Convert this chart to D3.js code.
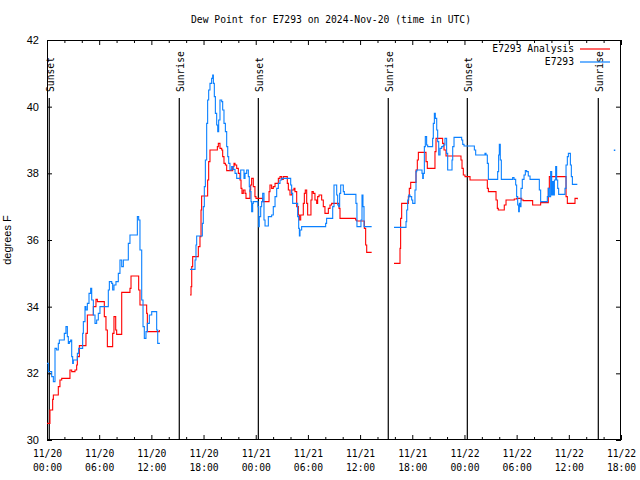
<!DOCTYPE html>
<html><head><meta charset="utf-8">
<script src="https://cdn.jsdelivr.net/npm/d3@7/dist/d3.min.js"></script>
<style>
body{margin:0;background:#fff;}
svg{display:block;}
.mono{font-family:"DejaVu Sans Mono",monospace;font-size:9.7px;fill:#000;}
.sans{font-family:"Liberation Sans",Arial,sans-serif;font-size:11px;fill:#000;}
</style>
</head><body>
<svg id="c" width="640" height="480"></svg>
<script>
// ---- data (hours since 2024-11-20 00:00 UTC) ----
const titleText = "Dew Point for E7293 on 2024-Nov-20 (time in UTC)";
const yLabel = "degrees F";
const seriesNames = ["E7293 Analysis", "E7293"];
const yTicks = [30, 32, 34, 36, 38, 40, 42];

const analysisHours = [
 0,0.34,0.65,0.73,1.30,1.49,1.69,2.64,2.84,3.22,3.41,3.49,3.72,4.48,4.64,5.33,5.63,5.79,6.59,6.78,6.94,7.55,7.70,7.90,8.01,8.59,9.54,9.66,10.54,10.69,11.46,11.54,12.92,
 null,
 16.44,16.56,16.64,16.75,17.40,17.59,17.71,17.78,18.47,18.59,18.74,19.59,19.70,19.89,20.09,20.20,20.35,20.51,20.66,21.35,21.50,21.62,21.81,22.00,22.19,22.31,22.42,22.57,22.77,22.88,23.34,23.42,23.53,23.72,23.91,24.03,24.80,25.53,25.64,25.83,26.02,26.22,26.41,26.60,26.79,26.98,27.17,27.63,27.75,27.94,28.13,28.40,28.51,28.71,28.90,29.02,29.17,29.47,29.59,29.70,29.86,29.97,30.35,30.47,30.62,30.81,31.01,31.12,31.28,31.58,31.77,31.96,32.35,32.54,32.73,33.58,33.69,35.49,35.61,36.49,36.64,36.76,37.33,
 null,
 39.90,40.59,40.66,40.78,41.55,41.66,41.82,42.43,42.58,42.70,43.58,43.73,44.61,44.73,45.49,45.65,45.88,47.60,47.72,47.87,48.06,48.64,50.63,50.75,51.63,51.78,51.89,52.58,52.78,53.73,54.00,54.58,54.77,55.84,56.76,57.64,57.76,59.68,59.83,60.71,60.98
];
const analysisValues = [
 30.5,30.9,31.22,31.35,31.6,31.8,31.85,32.1,32.05,32.1,32.25,32.5,32.83,33.2,33.75,34.0,34.22,34.15,33.7,33.3,32.8,33.2,33.7,33.3,33.17,34.43,34.55,34.92,34.5,34.05,33.8,33.25,33.3,
 null,
 34.35,34.6,35.2,35.5,35.8,36.1,36.9,37.32,37.8,38.35,38.7,38.8,38.9,38.75,38.7,38.5,38.3,38.25,38.08,38.2,38.3,38.25,38.15,38.0,37.8,37.55,37.4,37.5,37.4,37.25,37.5,37.65,37.85,37.6,37.3,37.25,37.15,37.45,37.65,37.55,37.6,37.7,37.7,37.85,37.9,37.82,37.9,37.7,37.5,37.35,37.5,37.55,37.45,37.0,36.75,36.6,36.75,37.1,37.4,37.5,37.1,36.75,37.2,37.45,37.4,37.2,37.1,37.3,37.35,37.2,37.0,36.8,36.95,37.05,37.1,36.95,36.65,36.6,36.57,36.35,35.85,35.63,35.63,
 null,
 35.3,35.75,36.65,37.1,37.3,37.55,37.73,38.1,38.4,38.63,38.35,38.15,38.65,39.05,38.9,38.7,38.52,38.4,38.15,37.95,37.9,37.8,37.55,37.45,37.2,36.95,36.9,37.05,37.2,37.23,37.25,37.2,37.18,37.05,37.12,37.55,37.9,37.3,37.1,37.25,37.22
];

const observedHours = [
 0,0.15,0.54,0.73,0.92,1.11,1.30,1.42,1.99,2.18,2.34,2.45,2.57,2.72,2.84,2.95,3.03,3.49,3.64,3.87,4.10,4.18,4.37,4.48,4.64,4.83,5.02,5.14,5.33,5.52,5.71,5.90,6.09,7.05,7.17,7.44,7.55,7.70,7.93,8.20,8.39,8.59,8.78,9.35,9.54,10.39,10.54,10.69,10.89,11.04,11.19,11.38,11.54,11.77,12.04,12.61,12.73,12.92,
 null,
 16.44,17.02,17.13,17.21,17.86,17.97,18.09,18.21,18.36,18.47,18.59,18.74,18.93,19.05,19.13,19.24,19.36,19.51,19.63,19.74,19.89,20.09,20.20,20.35,20.51,20.66,20.78,20.89,21.04,21.23,21.42,21.62,21.81,22.27,22.50,22.65,22.77,22.96,23.15,23.26,23.34,23.46,23.53,23.65,23.72,24.26,24.34,24.41,24.57,24.68,24.80,24.95,25.07,25.45,25.83,26.02,26.22,26.41,26.60,26.79,26.98,28.02,28.13,28.25,28.82,28.94,29.02,29.09,29.28,32.04,32.15,32.85,33.00,33.31,33.42,33.54,33.65,33.77,34.07,34.19,35.52,35.64,36.10,36.22,36.33,36.45,37.33,
 null,
 39.90,41.28,41.36,41.47,41.59,41.74,41.93,42.05,42.31,42.43,42.51,43.12,43.20,43.27,43.39,43.50,43.65,43.77,44.34,44.42,44.54,44.65,44.81,44.92,45.04,45.19,45.38,45.57,45.76,45.95,46.07,46.57,46.65,46.80,47.68,47.80,47.95,49.14,49.29,50.36,50.48,50.63,50.75,51.82,51.93,52.01,52.12,52.24,53.54,53.70,53.89,54.00,54.12,54.23,54.31,54.39,54.50,54.65,54.85,55.00,55.15,55.34,55.54,56.61,56.76,57.53,57.64,57.76,57.91,58.03,58.14,58.22,58.34,58.49,58.60,58.72,58.83,59.56,59.68,59.83,59.95,60.06,60.18,60.29,60.41,60.98
];
const observedValues = [
 32.3,32.05,31.9,31.75,32.75,32.7,32.9,33.0,33.2,33.4,33.1,32.9,32.95,33.0,32.5,32.3,32.4,32.6,32.75,32.75,33.2,33.55,34.0,33.9,34.1,34.4,34.55,34.2,33.75,33.5,33.6,33.8,34.0,34.5,34.75,34.7,34.5,34.65,34.75,35.0,35.4,35.2,35.4,35.9,36.15,36.7,36.6,35.7,34.2,33.4,33.05,33.25,33.5,33.75,33.85,33.3,32.9,32.88,
 null,
 35.12,35.4,35.85,36.12,36.5,37.0,37.6,38.4,39.5,40.2,40.5,40.7,40.85,40.95,40.7,40.3,39.8,39.45,39.25,39.6,40.2,40.15,39.9,39.5,39.25,38.8,38.5,38.3,38.1,38.2,38.12,38.0,37.85,38.1,38.1,37.85,38.0,38.1,37.9,37.6,37.45,37.15,36.85,37.1,37.15,37.0,36.4,36.7,37.0,37.15,37.4,36.6,36.42,36.7,36.75,37.0,37.3,37.55,37.7,37.8,37.85,37.65,37.4,37.1,36.7,36.35,36.12,36.3,36.4,36.5,36.65,37.0,37.65,37.35,37.05,37.0,37.4,37.65,37.45,37.37,37.1,36.4,36.6,37.35,37.0,36.4,36.4,
 null,
 36.38,36.55,36.9,37.2,37.35,37.3,37.2,37.1,37.5,38.05,38.1,38.0,37.85,38.0,38.8,39.1,38.85,38.8,39.05,39.5,39.8,39.65,39.3,38.95,38.55,38.75,38.8,38.85,39.05,38.6,38.1,38.4,38.8,39.08,39.0,38.87,38.82,38.7,38.55,38.6,38.55,38.3,37.82,38.05,38.55,38.87,38.4,37.82,37.87,37.82,37.65,37.3,37.05,36.85,37.1,37.0,37.55,37.82,37.95,38.08,38.05,37.92,37.82,37.5,37.15,37.3,37.55,37.3,38.05,37.35,37.75,37.35,37.8,38.2,37.8,37.55,37.37,37.55,38.25,38.5,38.6,38.6,38.25,37.9,37.67,37.67
];
const observedDotHours = [65.23];
const observedDotValues = [38.7];

const sunEventHours = [0.26, 15.21, 24.30, 39.24, 48.33, 63.39];
const sunEventLabels = ["Sunset", "Sunrise", "Sunset", "Sunrise", "Sunset", "Sunrise"];

// ---- setup ----
const T0 = Date.UTC(2024, 10, 20, 0, 0);
const toDate = h => new Date(T0 + h * 3600e3);
const svg = d3.select("#c");
const L = 47, R = 621, T = 40, B = 440;
const x = d3.scaleUtc().domain([toDate(0), toDate(66)]).range([L, R]);
const y = d3.scaleLinear().domain([30, 42]).range([B, T]);

function pairs(hs, vs) { return hs.map((h, i) => ({ h, v: vs[i] })); }
const analysis = pairs(analysisHours, analysisValues);
const observed = pairs(observedHours, observedValues);

// title
svg.append("text").attr("class", "mono").attr("x", 331).attr("y", 23)
  .attr("text-anchor", "middle").text(titleText);

// y label
svg.append("text").attr("class", "sans").attr("transform", "translate(11,240) rotate(-90)")
  .attr("text-anchor", "middle").text(yLabel);

// axes ticks
const majorTicks = d3.utcHour.every(6).range(toDate(0), toDate(66.01));
const minorTicks = d3.utcHour.every(2).range(toDate(0), toDate(66.01)).filter(d => d.getUTCHours() % 6 !== 0);
const fmtD = d3.utcFormat("%m/%d"), fmtH = d3.utcFormat("%H:%M");

const gB = svg.append("g").attr("transform", `translate(0,${B})`)
  .call(d3.axisBottom(x).tickValues(majorTicks).tickSize(-5).tickSizeOuter(0));
gB.select(".domain").remove();
gB.selectAll(".tick text").each(function (d) {
  const t = d3.select(this).text(null).attr("y", null).attr("dy", null)
    .attr("class", "mono").attr("font-family", null).attr("font-size", null);
  t.append("tspan").attr("x", 0).attr("y", 17).text(fmtD(d));
  t.append("tspan").attr("x", 0).attr("y", 31).text(fmtH(d));
});
gB.attr("font-family", null).attr("font-size", null);
const gBm = svg.append("g").attr("transform", `translate(0,${B})`)
  .call(d3.axisBottom(x).tickValues(minorTicks).tickSize(-3).tickSizeOuter(0).tickFormat(""));
gBm.select(".domain").remove();

const gT = svg.append("g").attr("transform", `translate(0,${T})`)
  .call(d3.axisTop(x).tickValues(majorTicks).tickSize(-5).tickSizeOuter(0).tickFormat(""));
gT.select(".domain").remove();
const gTm = svg.append("g").attr("transform", `translate(0,${T})`)
  .call(d3.axisTop(x).tickValues(minorTicks).tickSize(-3).tickSizeOuter(0).tickFormat(""));
gTm.select(".domain").remove();

const gL = svg.append("g").attr("transform", `translate(${L},0)`)
  .call(d3.axisLeft(y).tickValues(yTicks).tickSize(-5).tickSizeOuter(0).tickPadding(8));
gL.select(".domain").remove();
gL.attr("font-family", null).attr("font-size", null);
gL.selectAll(".tick text").attr("class", "sans");
const gR = svg.append("g").attr("transform", `translate(${R},0)`)
  .call(d3.axisRight(y).tickValues(yTicks).tickSize(-5).tickSizeOuter(0).tickFormat(""));
gR.select(".domain").remove();
svg.selectAll(".tick line").attr("stroke", "#000");

// border
svg.append("rect").attr("x", L + 0.5).attr("y", T + 0.5).attr("width", R - L - 1).attr("height", B - T - 1)
  .attr("fill", "none").attr("stroke", "#000").attr("stroke-width", 1);

// sun events
const sun = svg.append("g");
sunEventHours.forEach((h, i) => {
  const xx = x(toDate(h));
  sun.append("line").attr("x1", xx).attr("x2", xx).attr("y1", 98).attr("y2", B)
    .attr("stroke", "#000").attr("stroke-width", 1.2);
  sun.append("text").attr("class", "mono")
    .attr("transform", `translate(${xx + 1},92) rotate(-90)`)
    .attr("dy", "0.35em").text(sunEventLabels[i]);
});

// lines
const line = d3.line()
  .defined(d => d.h != null && d.v != null)
  .x(d => x(toDate(d.h))).y(d => y(d.v))
  .curve(d3.curveStepAfter);

svg.append("path").datum(analysis).attr("d", line)
  .attr("fill", "none").attr("stroke", "#ff0000").attr("stroke-width", 1.1);
svg.append("path").datum(observed).attr("d", line)
  .attr("fill", "none").attr("stroke", "#0a80ff").attr("stroke-width", 1.1);
svg.selectAll(".dot").data(observedDotHours).enter().append("rect")
  .attr("x", d => x(toDate(d)) - 0.5).attr("y", (d, i) => y(observedDotValues[i]) - 0.5)
  .attr("width", 1.5).attr("height", 1.5).attr("fill", "#0a80ff");

// legend
const legColors = ["#ff0000", "#0a80ff"];
seriesNames.forEach((n, i) => {
  const yy = 49 + i * 13;
  svg.append("text").attr("class", "mono").attr("x", 574).attr("y", yy)
    .attr("dy", "0.35em").attr("text-anchor", "end").text(n);
  svg.append("line").attr("x1", 580).attr("x2", 610).attr("y1", yy).attr("y2", yy)
    .attr("stroke", legColors[i]).attr("stroke-width", 1.2);
});
</script>
</body></html>
